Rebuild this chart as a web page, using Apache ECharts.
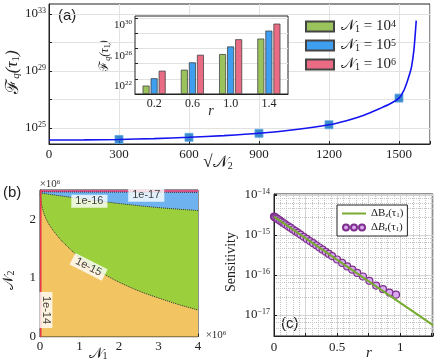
<!DOCTYPE html>
<html>
<head>
<meta charset="utf-8">
<script src="https://cdn.jsdelivr.net/npm/echarts@6/dist/echarts.min.js"></script>
<style>
html, body { margin: 0; padding: 0; background: #fff; }
#chart { width: 436px; height: 362px; }
</style>
</head>
<body>
<div id="chart"></div>
<script>
// (a) main curve: Fisher information vs sqrt(N2)
const sqrtN2 = [0, 150, 300, 450, 600, 750, 900, 1050, 1200, 1275, 1350, 1420, 1460, 1500, 1520, 1533, 1545, 1554, 1564, 1570, 1574]
const fisher = [1.45e24, 1.48e24, 1.58e24, 1.82e24, 2.24e24, 2.95e24, 4.27e24, 7.6e24, 1.7e25, 3.3e25, 7.9e25, 2.4e26, 4.8e26, 1.26e27, 4.0e27, 1.38e28, 5.6e28, 2.0e29, 2.95e30, 4.4e31, 3.4e32]
const markN2 = [300, 600, 900, 1200, 1500]
const markF = [1.58e24, 2.24e24, 4.27e24, 1.7e25, 1.26e27]

// (a) inset bars
const rCats = ['0.2', '0.6', '1.0', '1.4']
const barN1e4 = [1.35e22, 1.62e24, 1.78e26, 1.9e28]
const barN1e5 = [1.23e23, 1.48e25, 1.78e27, 2.09e29]
const barN1e6 = [1.2e24, 1.45e26, 1.55e28, 1.7e30]

// (b) contour boundaries (units of 1e6)
const n1Curve = [0, 0.04, 0.12, 0.25, 0.5, 0.75, 1.0, 1.25, 1.5, 2.0, 2.5, 3.0, 3.5, 4.0]
const n2At1e15 = [2.44, 2.25, 2.06, 1.89, 1.67, 1.5, 1.35, 1.22, 1.11, 0.93, 0.78, 0.66, 0.55, 0.455]
const n1Line = [0, 1, 2, 3, 4]
const n2At1e16 = [2.45, 2.355, 2.27, 2.2, 2.15]
const n2At1e17 = [2.468, 2.466, 2.464, 2.462, 2.46]
const n1At1e14 = 0.02
const contourText = ['1e-16', '1e-17', '1e-15', '1e-14']
const contourAt = [[1.25, 2.31], [2.69, 2.41], [1.23, 1.19], [0.15, 0.455]]

// (c) sensitivity vs r
const rLine = [0, 0.6, 1.26]
const sensLine = [2.88e-15, 1.45e-16, 5.5e-18]
const rDots = [0, 0.005, 0.01, 0.02, 0.03, 0.045, 0.06, 0.075, 0.09, 0.11, 0.13, 0.15, 0.17, 0.19, 0.21, 0.235, 0.26, 0.285, 0.31, 0.335, 0.36, 0.385, 0.41, 0.435, 0.46, 0.5, 0.54, 0.58, 0.62, 0.66, 0.705, 0.756, 0.81, 0.864, 0.915, 0.967]
const sensDots = [2.88e-15, 2.81e-15, 2.74e-15, 2.61e-15, 2.49e-15, 2.31e-15, 2.14e-15, 1.99e-15, 1.85e-15, 1.67e-15, 1.52e-15, 1.37e-15, 1.24e-15, 1.13e-15, 1.02e-15, 9.0e-16, 7.96e-16, 7.03e-16, 6.21e-16, 5.5e-16, 4.85e-16, 4.29e-16, 3.79e-16, 3.35e-16, 2.96e-16, 2.43e-16, 1.99e-16, 1.63e-16, 1.35e-16, 1.12e-16, 9.1e-17, 7.1e-17, 5.4e-17, 4.4e-17, 3.6e-17, 3.2e-17]

const SERIF = "'Liberation Serif', 'DejaVu Serif', serif"
const SANS = "'Liberation Sans', 'DejaVu Sans', sans-serif"
const zip = (xs, ys) => xs.map((x, i) => [x, ys[i]])

const powRich = (size) => ({
  b: { fontFamily: SERIF, fontSize: size, color: '#222' },
  s: { fontFamily: SERIF, fontSize: Math.round(size * 0.62), color: '#222', verticalAlign: 'top', padding: [0, 0, 6, 0] }
})
const powLabel = (v) => {
  const e = Math.log10(v)
  if (Math.abs(e - Math.round(e)) > 1e-6) return ''
  const n = Math.round(e)
  return '{b|10}{s|' + (n < 0 ? '\u2212' + -n : n) + '}'
}

const chart = echarts.init(document.getElementById('chart'))
window.addEventListener('resize', () => chart.resize())

const tickIn = { show: true, inside: true, length: 3, lineStyle: { color: '#222' } }
const frame = { show: true, borderColor: '#222', borderWidth: 1, backgroundColor: '#fff' }

const option = {
  animation: false,
  grid: [
    { left: 49, top: 4, width: 381, height: 140, ...frame },
    { left: 135, top: 16, width: 153, height: 78, ...frame, z: 3 },
    { left: 40, top: 190, width: 158, height: 146.7, ...frame },
    { left: 274, top: 194, right: -3, height: 142, ...frame }
  ],
  xAxis: [
    {
      gridIndex: 0, type: 'value', min: 0, max: 1633, interval: 300,
      axisLine: { lineStyle: { color: '#222' } }, axisTick: tickIn,
      axisLabel: { fontFamily: SERIF, fontSize: 13, color: '#222', margin: 4, formatter: (v) => (v % 300 === 0 ? v : '') },
      splitLine: { lineStyle: { color: '#e2e2e2' } }
    },
    {
      gridIndex: 1, type: 'category', data: rCats, z: 3,
      axisLine: { lineStyle: { color: '#222' } }, axisTick: { show: false },
      axisLabel: { fontFamily: SERIF, fontSize: 12, color: '#222', margin: 4 }
    },
    {
      gridIndex: 2, type: 'value', min: 0, max: 4, interval: 1,
      axisLine: { lineStyle: { color: '#222' } }, axisTick: tickIn,
      axisLabel: { fontFamily: SERIF, fontSize: 13, color: '#222', margin: 3 },
      splitLine: { show: false }
    },
    {
      gridIndex: 3, type: 'value', min: 0, max: 1.26, interval: 0.25,
      axisLine: { lineStyle: { color: '#222' } }, axisTick: tickIn,
      axisLabel: { fontFamily: SERIF, fontSize: 13, color: '#222', margin: 5, formatter: (v) => ([0, 0.5, 1].includes(v) ? v : '') },
      splitLine: { lineStyle: { color: '#d4d4d4' } },
      minorTick: { show: false, splitNumber: 5 },
      minorSplitLine: { show: true, lineStyle: { color: '#c4c4c4', type: 'dotted' } }
    }
  ],
  yAxis: [
    {
      gridIndex: 0, type: 'log', min: 7.6e23, max: 5e33,
      axisLine: { lineStyle: { color: '#222' } },
      axisTick: { ...tickIn, customValues: [1e25, 1e27, 1e29, 1e31, 1e33] },
      axisLabel: { customValues: [1e25, 1e29, 1e33], formatter: powLabel, rich: powRich(13), margin: 3 },
      splitLine: { lineStyle: { color: '#e2e2e2' } }
    },
    {
      gridIndex: 1, type: 'log', min: 1.07e21, max: 1.7e31, startValue: 1.07e21, z: 3,
      axisLine: { lineStyle: { color: '#222' } },
      axisTick: { ...tickIn, customValues: [1e23, 1e25, 1e27, 1e29, 1e31] },
      axisLabel: { customValues: [1e22, 1e26, 1e30], formatter: powLabel, rich: powRich(11), margin: 3 },
      splitLine: { lineStyle: { color: '#e2e2e2' } }
    },
    {
      gridIndex: 2, type: 'value', min: 0, max: 2.5, interval: 1,
      axisLine: { lineStyle: { color: '#222' } }, axisTick: tickIn,
      axisLabel: { fontFamily: SERIF, fontSize: 13, color: '#222', margin: 4, formatter: (v) => (Number.isInteger(v) ? v : '') },
      splitLine: { show: false }
    },
    {
      gridIndex: 3, type: 'log', min: 2.95e-18, max: 1.06e-14,
      axisLine: { lineStyle: { color: '#222' } }, axisTick: tickIn,
      axisLabel: { formatter: powLabel, rich: powRich(13), margin: 4 },
      splitLine: { lineStyle: { color: '#d4d4d4' } },
      minorTick: { show: false, splitNumber: 5 },
      minorSplitLine: { show: true, lineStyle: { color: '#c4c4c4', type: 'dotted' } }
    }
  ],
  legend: [
    {
      left: 305, top: 19, padding: 0, orient: 'vertical', itemWidth: 28, itemHeight: 10, itemGap: 4, icon: 'rect',
      data: ['N1e4', 'N1e5', 'N1e6'],
      formatter: (name) => '{n|\u{1D4A9}}{d|1}{t| = 10}{u|' + name.slice(-1) + '}',
      textStyle: {
        padding: [0, 0, 0, 2],
        rich: {
          n: { fontFamily: SERIF, fontSize: 15, color: '#222' },
          d: { fontFamily: SERIF, fontSize: 10, color: '#222', verticalAlign: 'bottom' },
          t: { fontFamily: SERIF, fontSize: 15, color: '#222' },
          u: { fontFamily: SERIF, fontSize: 10, color: '#222', verticalAlign: 'top' }
        }
      }
    },
    {
      left: 337, top: 205, orient: 'vertical', itemWidth: 24, itemHeight: 6, itemGap: 3,
      backgroundColor: '#fff', borderColor: '#222', borderWidth: 1, padding: [3, 4, 3, 4],
      data: [
        { name: 'lineB', itemStyle: { opacity: 0 } },
        { name: 'dotB', icon: 'path://M0,3a3,3 0 1,0 6,0a3,3 0 1,0 -6,0zM8,3a3,3 0 1,0 6,0a3,3 0 1,0 -6,0zM16,3a3,3 0 1,0 6,0a3,3 0 1,0 -6,0z' }
      ],
      formatter: (name) => (name === 'lineB' ? '{t|\u0394B}{d|z}{t|(\u03C4}{k|1}{t|)}' : '{t|\u0394}{i|B}{d|z}{t|(\u03C4}{k|1}{t|)}'),
      textStyle: {
        rich: {
          t: { fontFamily: SERIF, fontSize: 11, color: '#222' },
          i: { fontFamily: SERIF, fontSize: 11, fontStyle: 'italic', color: '#222' },
          d: { fontFamily: SERIF, fontSize: 7, fontStyle: 'italic', color: '#222', verticalAlign: 'bottom' },
          k: { fontFamily: SERIF, fontSize: 7, color: '#222', verticalAlign: 'bottom' }
        }
      }
    }
  ],
  series: [
    {
      name: 'curve', type: 'line', xAxisIndex: 0, yAxisIndex: 0,
      data: zip(sqrtN2, fisher), showSymbol: false, smooth: 0.2,
      lineStyle: { color: '#1414f0', width: 1.6 }
    },
    {
      name: 'marks', type: 'scatter', xAxisIndex: 0, yAxisIndex: 0,
      data: zip(markN2, markF), symbol: 'rect', symbolSize: 8,
      itemStyle: { color: '#0b6ec0', borderColor: '#5fa6e6', borderWidth: 1 }
    },
    ...[['N1e4', barN1e4, '#9bc35c'], ['N1e5', barN1e5, '#3e9ff0'], ['N1e6', barN1e6, '#ea6b84']].map(([name, vals, color]) => ({
      name, type: 'bar', xAxisIndex: 1, yAxisIndex: 1, data: vals, z: 4,
      barWidth: 7, barGap: '15%',
      itemStyle: { color, borderColor: '#444', borderWidth: 0.8 }
    })),
    {
      name: 'orange', type: 'line', xAxisIndex: 2, yAxisIndex: 2, data: zip([0, 4], [0, 0]),
      symbol: 'none', lineStyle: { width: 0 }, areaStyle: { origin: 'end', color: '#f2c462', opacity: 1 }
    },
    {
      name: 'c15', type: 'line', xAxisIndex: 2, yAxisIndex: 2, data: zip(n1Curve, n2At1e15),
      symbol: 'none', smooth: 0.3,
      lineStyle: { color: '#333', width: 1, type: 'dotted' }, areaStyle: { origin: 'end', color: '#9bcf3c', opacity: 1 }
    },
    {
      name: 'c16', type: 'line', xAxisIndex: 2, yAxisIndex: 2, data: zip(n1Line, n2At1e16),
      symbol: 'none', smooth: 0.3,
      lineStyle: { color: '#333', width: 1, type: 'dotted' }, areaStyle: { origin: 'end', color: '#6eb3ef', opacity: 1 }
    },
    {
      name: 'c17', type: 'line', xAxisIndex: 2, yAxisIndex: 2, data: zip(n1Line, n2At1e17),
      symbol: 'none',
      lineStyle: { color: '#333', width: 1, type: 'dotted' }, areaStyle: { origin: 'end', color: '#e0528c', opacity: 1 }
    },
    {
      name: 'c14', type: 'line', xAxisIndex: 2, yAxisIndex: 2, data: zip([n1At1e14, n1At1e14], [0, 2.5]),
      symbol: 'none', lineStyle: { color: '#e8334a', width: 1.5 }
    },
    {
      name: 'clabels', type: 'scatter', xAxisIndex: 2, yAxisIndex: 2, symbolSize: 1, z: 5,
      itemStyle: { color: 'transparent' },
      data: contourText.map((t, i) => ({
        value: contourAt[i],
        label: { formatter: t, rotate: [0, 0, -27, -90][i] }
      })),
      label: {
        show: true, position: 'inside', fontFamily: SANS, fontSize: 11, color: '#111',
        backgroundColor: '#fff', padding: [1, 4]
      }
    },
    {
      name: 'lineB', type: 'line', xAxisIndex: 3, yAxisIndex: 3, data: zip(rLine, sensLine),
      symbol: 'none', lineStyle: { color: '#77ac30', width: 2 }, itemStyle: { color: '#77ac30' }
    },
    {
      name: 'dotB', type: 'scatter', xAxisIndex: 3, yAxisIndex: 3, data: zip(rDots, sensDots),
      symbolSize: 7, itemStyle: { color: '#d9aaf0', borderColor: '#7e2f8e', borderWidth: 1.2, opacity: 1 }
    }
  ],
  graphic: [
    { type: 'text', x: 58, y: 8, style: { text: '(a)', fontFamily: SANS, fontSize: 15, fill: '#222' } },
    { type: 'text', x: 3, y: 185, style: { text: '(b)', fontFamily: SANS, fontSize: 15, fill: '#222' } },
    { type: 'text', x: 280, y: 316, style: { text: '(c)', fontFamily: SANS, fontSize: 15, fill: '#222', backgroundColor: '#fff', padding: [0, 1] } },
    {
      type: 'text', x: 13, y: 72, rotation: Math.PI / 2,
      style: {
        text: '{f|\u2131}{d|q}{t|(\u03C4}{k|1}{t|)}', align: 'center', verticalAlign: 'middle',
        rich: {
          f: { fontFamily: SERIF, fontSize: 18, fill: '#222' },
          t: { fontFamily: SERIF, fontSize: 17, fill: '#222', fontStyle: 'italic' },
          d: { fontFamily: SERIF, fontSize: 11, fill: '#222', fontStyle: 'italic', verticalAlign: 'bottom' },
          k: { fontFamily: SERIF, fontSize: 11, fill: '#222', verticalAlign: 'bottom' }
        }
      }
    },
    {
      type: 'text', x: 105, y: 56, rotation: Math.PI / 2,
      style: {
        text: '{f|\u2131}{d|q}{t|(\u03C4}{k|1}{t|)}', align: 'center', verticalAlign: 'middle',
        rich: {
          f: { fontFamily: SERIF, fontSize: 13, fill: '#222' },
          t: { fontFamily: SERIF, fontSize: 12, fill: '#222', fontStyle: 'italic' },
          d: { fontFamily: SERIF, fontSize: 8, fill: '#222', fontStyle: 'italic', verticalAlign: 'bottom' },
          k: { fontFamily: SERIF, fontSize: 8, fill: '#222', verticalAlign: 'bottom' }
        }
      }
    },
    { type: 'text', x: 211, y: 111, style: { text: 'r', fontFamily: SERIF, fontSize: 14, fontStyle: 'italic', fill: '#222', align: 'center', verticalAlign: 'middle' } },
    {
      type: 'text', x: 218, y: 163,
      style: {
        text: '{t|\u221A}{n|\u{1D4A9}}{d|2}', align: 'center', verticalAlign: 'middle',
        rich: {
          t: { fontFamily: SERIF, fontSize: 17, fill: '#222' },
          n: { fontFamily: SERIF, fontSize: 16, fill: '#222' },
          d: { fontFamily: SERIF, fontSize: 10, fill: '#222', verticalAlign: 'bottom' }
        }
      }
    },
    {
      type: 'text', x: 50, y: 184,
      style: { text: '{t|\u00D710}{u|6}', align: 'center', verticalAlign: 'middle', rich: { t: { fontFamily: SERIF, fontSize: 11, fill: '#333' }, u: { fontFamily: SERIF, fontSize: 7, fill: '#333', verticalAlign: 'top' } } }
    },
    {
      type: 'text', x: 216, y: 335,
      style: { text: '{t|\u00D710}{u|6}', align: 'center', verticalAlign: 'middle', rich: { t: { fontFamily: SERIF, fontSize: 11, fill: '#333' }, u: { fontFamily: SERIF, fontSize: 7, fill: '#333', verticalAlign: 'top' } } }
    },
    {
      type: 'text', x: 98, y: 354,
      style: { text: '{n|\u{1D4A9}}{d|1}', align: 'center', verticalAlign: 'middle', rich: { n: { fontFamily: SERIF, fontSize: 15, fill: '#222' }, d: { fontFamily: SERIF, fontSize: 10, fill: '#222', verticalAlign: 'bottom' } } }
    },
    {
      type: 'text', x: 9, y: 280, rotation: Math.PI / 2,
      style: { text: '{n|\u{1D4A9}}{d|2}', align: 'center', verticalAlign: 'middle', rich: { n: { fontFamily: SERIF, fontSize: 15, fill: '#222' }, d: { fontFamily: SERIF, fontSize: 10, fill: '#222', verticalAlign: 'bottom' } } }
    },
    { type: 'text', x: 231, y: 262, rotation: Math.PI / 2, style: { text: 'Sensitivity', fontFamily: SERIF, fontSize: 14, fill: '#222', align: 'center', verticalAlign: 'middle' } },
    { type: 'text', x: 369, y: 353, style: { text: 'r', fontFamily: SERIF, fontSize: 15, fontStyle: 'italic', fill: '#222', align: 'center', verticalAlign: 'middle' } }
  ]
}
chart.setOption(option)
</script>
</body>
</html>
